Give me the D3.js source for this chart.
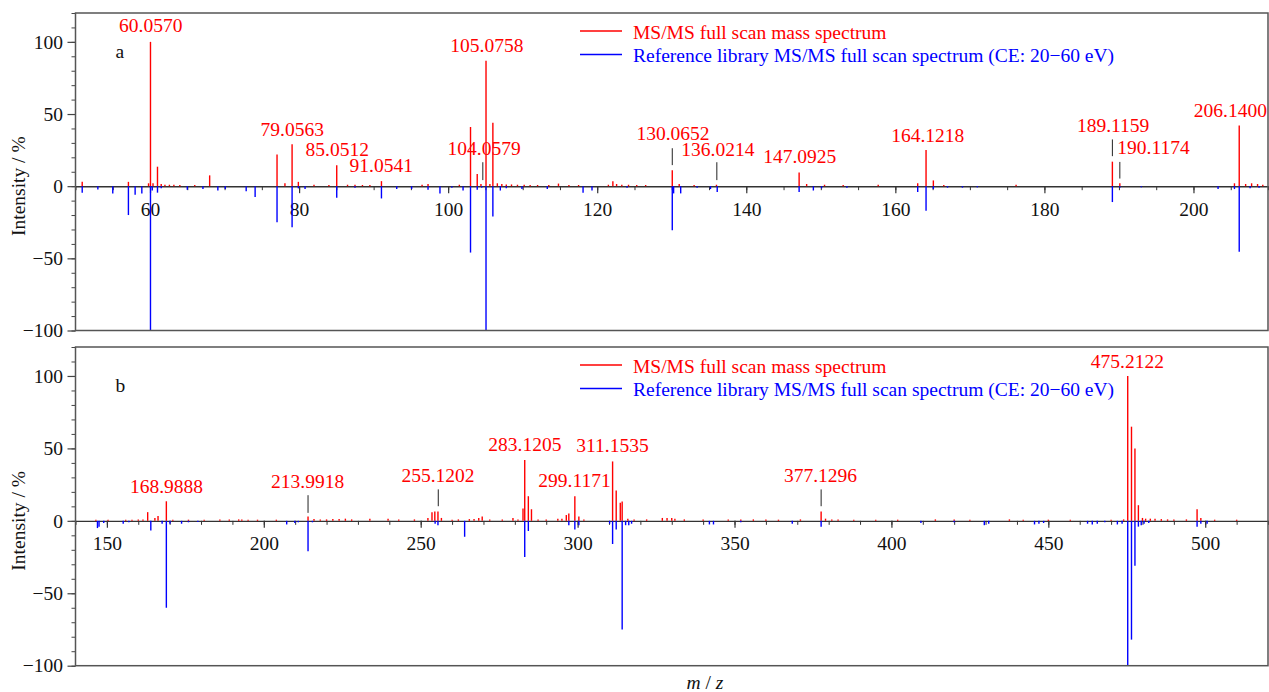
<!DOCTYPE html>
<html>
<head>
<meta charset="utf-8">
<script src="https://cdn.jsdelivr.net/npm/d3@7"></script>
<style>
  body { margin: 0; background: #fff; }
  svg, svg text { font-family: "Liberation Serif", "Times New Roman", serif; }
</style>
</head>
<body>
<div class="chart"></div>
<script>
// ---- panel a : measured spectrum (red, up) and library spectrum (blue, down) ----
var expA = [[50.9,3],[57.1,3],[59.8,2],[60.06,100],[60.4,2],[61.0,13.5],[61.5,1.5],[62.0,1],[62.6,1],[63.2,1],[64.0,0.8],
  [66.0,0.8],[68.0,7.5],[77.04,22],[78.1,2],[79.06,29],[79.9,3],[82,1],[84,0.8],[85.05,14.5],[86.5,1],[87.5,1],[88.5,0.8],
  [89.5,0.8],[91.05,3.5],[96.5,1],[97.3,1.5],[101.5,1],[103.0,41],[103.9,8.5],[104.4,1.5],[105.08,87],[105.6,1.5],[106.0,44],
  [106.6,2],[107.2,1.5],[107.8,1.2],[108.5,1.2],[109.3,1],[110.2,1],[111,0.8],[112,0.8],[113.5,0.8],[114.8,1.8],[116.2,0.8],
  [117.5,0.8],[121.5,1],[122.1,3.5],[122.6,1.5],[123.3,1],[124.2,1],[125.3,0.8],[126.5,0.8],[130.07,11],[131.0,1.5],[133,0.8],
  [136.0,1],[147.09,9.5],[148.1,1.5],[150.5,1],[153,0.8],[157.7,1],[163.0,2],[164.12,25],[165.1,4],[166.5,0.8],[176.2,1],
  [189.12,17],[190.12,2],[205.5,2],[206.14,42],[207.0,1.5],[207.8,2],[208.6,1.5],[209.3,1]];
var refA = [[50.9,4.5],[53.0,2.3],[55.0,5],[57.1,20],[58.0,6],[58.9,5],[60.06,100],[60.3,3],[61.0,4.5],[61.5,1.5],[65.0,2.5],
  [67.1,2],[69.1,3],[70.1,2],[72.9,3.5],[74.1,7.5],[77.04,25],[79.06,28.5],[79.9,1.5],[80.8,2],[85.05,8],[87.5,1],[91.05,8.5],
  [93.1,2],[95.1,2],[97.3,2.5],[98.9,5],[100.5,1],[102.0,3],[103.0,46],[103.9,2.5],[104.5,1],[105.08,100],[106.0,21],[107.0,3],
  [107.8,1.5],[109.9,2],[113.3,2],[118.1,4.5],[119.3,3],[124,1],[130.07,30.5],[130.25,5],[131.2,5],[133.4,1],[135.2,2],[136.1,4],
  [147.09,4],[149.0,3],[150.1,1.5],[153.5,1],[163.0,4],[164.12,17],[165.1,2],[167,1],[169,1],[171,0.8],[189.12,11],[190.12,1],
  [193,0.8],[203.3,2],[205.5,2],[206.14,45.5],[207.6,1.5],[208.8,1]];
// label text, m/z of label centre, intensity level of label baseline
var labelsA = [["60.0570",60.1,106.7],["79.0563",79.09,34.6],["85.0512",85.12,20.8],["91.0541",91.02,9.7],
  ["105.0758",105.19,93],["104.0579",104.83,21.5],["130.0652",130.16,31.9],["136.0214",136.19,21],["147.0925",147.18,15.9],
  ["164.1218",164.34,30.7],["189.1159",189.22,37.6],["190.1174",194.64,22.2],["206.1400",204.96,47.6]];
// leader lines: m/z, from, to (intensity)
var leadersA = [[104.65,4.2,16.6],[130.07,14.6,26.3],[136.05,4.2,16.6],[189.12,20.8,32.4],[190.12,5.3,16.8]];
var xTicksA = [60,80,100,120,140,160,180,200];

// ---- panel b ----
var expB = [[146.5,0.8],[150.4,0.8],[156,0.8],[158,0.8],[160,1],[161.5,1],[163.0,6],[165.3,2],[166.3,3.4],[168.95,13.5],
  [171,0.8],[176,0.8],[181,0.8],[186,1],[189,1],[192,1],[193,1],[195,0.8],[198,0.8],[204,0.8],[214.1,3],[216,1.2],[218,1],
  [220,1],[222,1.2],[224,1.2],[226,1.5],[228,1],[233.8,1.5],[239.6,1.5],[243,1],[248,1],[252.3,2],[253.6,6],[254.5,6.5],
  [255.5,6.5],[256.6,2],[260,0.8],[262,1],[265.5,1.2],[267,1.2],[268.5,2],[269.6,3],[272,1],[276,1],[279.4,2],[281,1],
  [282.6,8.5],[283.15,42],[284.3,17],[285.3,8],[287.4,1],[290,1],[293.7,1.5],[295,1.5],[296.4,4],[297.2,5],[299.12,17],
  [300.4,3],[302,1],[311.15,41],[312.3,21],[313.6,12.5],[314.2,13.3],[316,1.5],[318,1],[322,1],[327,2],[328.5,2],[330,2],
  [331,1.5],[334,1],[340,1],[348,1],[352,1],[356,1],[360,1],[364,0.8],[371,1],[377.6,6.5],[379,1.5],[381,1],[383,1],
  [388,0.8],[395,0.8],[402,0.8],[414,1],[420,1],[425,0.8],[437.6,1],[442,0.8],[450,0.8],[457,0.8],[470,0.8],[474,1],
  [475.3,100],[476.5,65],[477.6,50],[478.7,10.8],[480,2],[481,1.5],[482.5,1.5],[484,1.5],[486,1.2],[488,1],[490,1],[494,1],
  [497.4,8],[498.6,2],[503,0.8],[510,0.8]];
var refB = [[147.0,5],[147.5,4],[149,1.5],[155.2,2],[157,1],[164.0,6.7],[167.6,2],[168.95,60],[170.1,2],[173.8,2],[176,1],
  [179,0.8],[207.3,2.5],[209.9,1.5],[211,1],[214.1,21],[215.5,1],[254.6,2],[255.5,3],[264.0,11],[283.15,25],[284.3,7],
  [297.2,3],[299.12,6],[300.4,3],[310.2,2],[311.15,16],[312.3,6],[314.2,75],[315.3,3],[316.3,3],[317.2,2],[342,2.5],
  [343.3,2.5],[352,1],[368.4,2],[377.6,4],[409.4,1.5],[420,1],[429.6,3],[431,2],[445.6,2.5],[447,2],[448.5,1.5],[462.5,2],
  [464,2.5],[465.6,2],[468,1],[472,2.5],[473.5,2],[475.3,100],[476.5,82],[477.6,31],[478.7,4],[479.6,3],[480.5,2],[482,1.5],
  [497.4,4],[498.6,2],[500.6,2]];
var labelsB = [["168.9888",169.0,18.9],["213.9918",213.95,22.8],["255.1202",255.5,26.5],["283.1205",283.2,48.3],
  ["299.1171",299.0,23.4],["311.1535",311.1,47.6],["377.1296",377.4,26.9],["475.2122",475.2,105.5]];
var leadersB = [[214.1,5.5,17.7],[255.6,10.1,21.7],[377.6,10.1,21.7]];
var xTicksB = [150,200,250,300,350,400,450,500];

var yMajor = [-100,-50,0,50,100];
var yMinor = d3.range(-100,121,10);
var legendNames = ["MS/MS full scan mass spectrum","Reference library MS/MS full scan spectrum (CE: 20\u221260 eV)"];

var W = 1269, H = 692, fs = 19.5;
var serif = "'Liberation Serif', 'Times New Roman', serif";
var left = 75.5, right = 1268;
var red = "#ff0000", blue = "#0000ff";

var svg = d3.select(".chart").append("svg").attr("width", W).attr("height", H)
  .attr("font-family", serif);

function fmt(d) { return d < 0 ? "\u2212" + Math.abs(d) : "" + d; }

function drawPanel(top, bottom, domain, xTicks, xMinorStep, exp, ref, labels, leaders, tag) {
  var g = svg.append("g");
  var x = d3.scaleLinear().domain(domain).range([left, right]);
  var y = d3.scaleLinear().domain([-100, 120]).range([bottom, top]);

  // y axis (outward ticks)
  g.append("g").attr("transform", "translate(" + left + ",0)")
    .call(d3.axisLeft(y).tickValues(yMinor).tickSize(4).tickFormat(""))
    .call(function(a){ a.select(".domain").remove(); a.selectAll("line").attr("stroke","#444"); });
  g.append("g").attr("transform", "translate(" + left + ",0)")
    .call(d3.axisLeft(y).tickValues(yMajor).tickSize(8).tickPadding(4.5).tickFormat(fmt))
    .attr("font-family", serif).attr("font-size", fs)
    .call(function(a){
      a.select(".domain").remove();
      a.selectAll("line").attr("stroke","#444").attr("stroke-width",1.2);
      a.selectAll("text").attr("fill","#111");
    });

  // x axis on the zero line
  var minor = d3.range(domain[0], domain[1] + 0.01, xMinorStep);
  g.append("g").attr("transform", "translate(0," + y(0) + ")")
    .call(d3.axisBottom(x).tickValues(minor).tickSize(4).tickFormat(""))
    .call(function(a){ a.select(".domain").remove(); a.selectAll("line").attr("stroke","#333"); });
  g.append("g").attr("transform", "translate(0," + y(0) + ")")
    .call(d3.axisBottom(x).tickValues(xTicks).tickSize(7).tickSizeOuter(0).tickPadding(8.5))
    .attr("font-family", serif).attr("font-size", fs)
    .call(function(a){
      a.select(".domain").attr("stroke","#333").attr("stroke-width",1.4);
      a.selectAll("line").attr("stroke","#333").attr("stroke-width",1.2);
      a.selectAll("text").attr("fill","#111");
    });

  // spectra
  g.append("g").selectAll("line").data(exp).join("line")
    .attr("x1", function(d){ return x(d[0]); }).attr("x2", function(d){ return x(d[0]); })
    .attr("y1", y(0)).attr("y2", function(d){ return y(d[1]); })
    .attr("stroke", red).attr("stroke-width", 1.4);
  g.append("g").selectAll("line").data(ref).join("line")
    .attr("x1", function(d){ return x(d[0]); }).attr("x2", function(d){ return x(d[0]); })
    .attr("y1", y(0)).attr("y2", function(d){ return y(-d[1]); })
    .attr("stroke", blue).attr("stroke-width", 1.4);

  // peak annotations
  g.append("g").selectAll("line").data(leaders).join("line")
    .attr("x1", function(d){ return x(d[0]); }).attr("x2", function(d){ return x(d[0]); })
    .attr("y1", function(d){ return y(d[1]); }).attr("y2", function(d){ return y(d[2]); })
    .attr("stroke", "#222").attr("stroke-width", 1);
  g.append("g").selectAll("text").data(labels).join("text")
    .attr("x", function(d){ return x(d[1]); }).attr("y", function(d){ return y(d[2]); })
    .attr("text-anchor", "middle").attr("font-size", fs).attr("fill", red)
    .text(function(d){ return d[0]; });

  // legend
  var lg = g.append("g");
  [red, blue].forEach(function(c, i) {
    var ly = top + 18 + i * 23.5;
    lg.append("line").attr("x1", 580).attr("x2", 622).attr("y1", ly).attr("y2", ly)
      .attr("stroke", c).attr("stroke-width", 1.4);
    lg.append("text").attr("x", 633).attr("y", ly + 7.5).attr("font-size", fs).attr("fill", c)
      .text(legendNames[i]);
  });

  // panel tag
  g.append("text").attr("x", left + 40).attr("y", top + 45).attr("font-size", fs).attr("fill", "#111").text(tag);

  // y title
  g.append("text").attr("transform", "translate(25," + y(0) + ") rotate(-90)")
    .attr("text-anchor", "middle").attr("font-size", fs).attr("fill", "#111").text("Intensity / %");

  // frame
  g.append("rect").attr("x", left).attr("y", top).attr("width", right - left).attr("height", bottom - top)
    .attr("fill", "none").attr("stroke", "#555").attr("stroke-width", 1.5);
}

drawPanel(13, 330.5, [50, 210], xTicksA, 5, expA, refA, labelsA, leadersA, "a");
drawPanel(347, 665.7, [140, 520], xTicksB, 10, expB, refB, labelsB, leadersB, "b");

var xt = svg.append("text").attr("x", 705).attr("y", 689).attr("text-anchor", "middle")
  .attr("font-size", fs).attr("fill", "#111");
xt.append("tspan").attr("font-style", "italic").text("m");
xt.append("tspan").text(" / ");
xt.append("tspan").attr("font-style", "italic").text("z");
</script>
</body>
</html>
